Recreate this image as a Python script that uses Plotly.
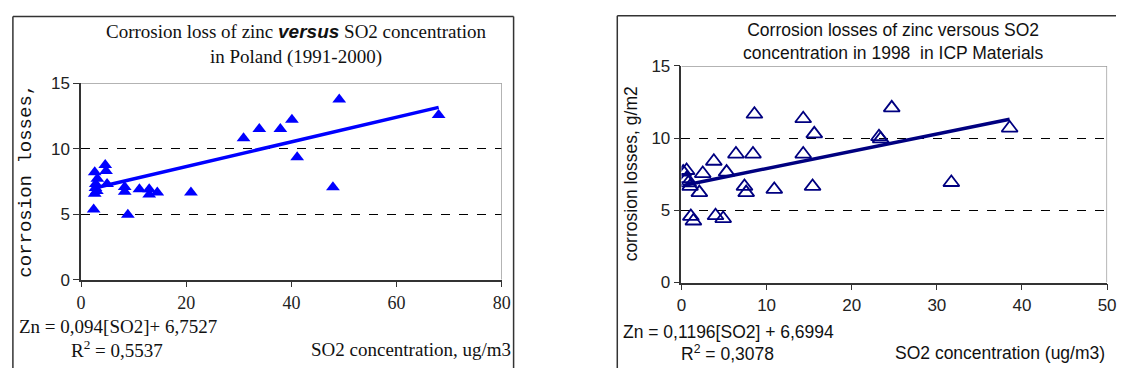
import plotly.graph_objects as go

# ---------------- data ----------------
# Left chart: Poland 1991-2000
pl_so2 = [2.4, 2.6, 2.6, 2.8, 3.0, 3.1, 2.75, 4.6, 4.75, 4.95, 8.3, 8.3, 8.9,
          11.1, 12.96, 12.96, 14.5, 20.9, 30.9, 33.9, 37.9, 40.1, 41.1, 47.9, 49.1, 68.0]
pl_loss = [5.36, 8.2, 6.55, 7.3, 6.76, 7.7, 7.0, 8.75, 8.3, 7.3, 7.08, 6.7, 4.95,
           6.9, 6.9, 6.5, 6.65, 6.65, 10.8, 11.5, 11.5, 12.2, 9.35, 7.05, 13.75, 12.56]
pl_slope, pl_intercept = 0.094, 6.7527

# Right chart: ICP Materials 1998
icp_so2 = [0.2, 0.6, 0.6, 0.8, 1.0, 1.1, 1.4, 2.1, 2.5, 3.8, 4.0, 4.9, 5.3, 6.4,
           7.4, 7.6, 8.4, 8.57, 10.9, 14.3, 14.3, 15.4, 15.6, 23.2, 23.4, 24.7, 31.7, 38.55]
icp_loss = [7.65, 7.76, 7.2, 6.9, 6.66, 4.58, 4.26, 6.23, 7.55, 8.4, 4.63, 4.43, 7.65, 8.9,
            6.66, 6.23, 8.9, 11.66, 6.45, 11.35, 8.9, 6.66, 10.3, 10.1, 9.95, 12.1, 6.93, 10.7]
icp_slope, icp_intercept = 0.1196, 6.6994

y_ticks = [0, 5, 10, 15]
pl_x_ticks = [0, 20, 40, 60, 80]
icp_x_ticks = [0, 10, 20, 30, 40, 50]

W, H = 1125, 378
def px(x):
    return x / W
def py(y):
    return 1 - y / H

def trend(xs, slope, intercept):
    x0, x1 = min(xs), max(xs)
    return [x0, x1], [slope * x0 + intercept, slope * x1 + intercept]

fig = go.Figure()

# left chart
tx, ty = trend(pl_so2, pl_slope, pl_intercept)
fig.add_trace(go.Scatter(x=tx, y=ty, mode="lines", line=dict(color="#0000FF", width=3.5),
                         xaxis="x", yaxis="y", showlegend=False, hoverinfo="skip"))
fig.add_trace(go.Scatter(x=pl_so2, y=pl_loss, mode="markers",
                         marker=dict(symbol="triangle-up", size=12, color="#0000FF", line=dict(width=0)),
                         xaxis="x", yaxis="y", showlegend=False))

# right chart
tx, ty = trend(icp_so2, icp_slope, icp_intercept)
fig.add_trace(go.Scatter(x=tx, y=ty, mode="lines", line=dict(color="#000080", width=3.5),
                         xaxis="x2", yaxis="y2", showlegend=False, hoverinfo="skip"))
fig.add_trace(go.Scatter(x=icp_so2, y=icp_loss, mode="markers",
                         marker=dict(symbol="triangle-up-open", size=14, color="#000080",
                                     line=dict(width=1.8, color="#000080")),
                         xaxis="x2", yaxis="y2", showlegend=False))

axis_common = dict(showline=True, linecolor="#333333", linewidth=1.5, ticks="outside",
                   ticklen=6, tickcolor="#333333", zeroline=False, fixedrange=True)

fig.update_layout(
    width=W, height=H, margin=dict(l=0, r=0, t=0, b=0),
    paper_bgcolor="white", plot_bgcolor="white",
    xaxis=dict(domain=[px(77), px(503)], range=[0, 80], tickvals=pl_x_ticks, showgrid=False,
               anchor="y", tickfont=dict(family="Liberation Serif", size=18, color="#222"), **axis_common),
    yaxis=dict(domain=[py(285), py(78)], range=[0, 15], tickvals=y_ticks, showgrid=True,
               gridcolor="#000000", griddash="dash", gridwidth=1, anchor="x",
               tickfont=dict(family="Liberation Sans", size=17, color="#222"), **axis_common),
    xaxis2=dict(domain=[px(685), px(1116)], range=[0, 50], tickvals=icp_x_ticks, showgrid=False,
                anchor="y2", tickfont=dict(family="Liberation Sans", size=17, color="#222"), **axis_common),
    yaxis2=dict(domain=[py(288), py(60)], range=[0, 15], tickvals=y_ticks, showgrid=True,
                gridcolor="#000000", griddash="dash", gridwidth=1, anchor="x2",
                tickfont=dict(family="Liberation Sans", size=17, color="#222"), **axis_common),
)

frame = dict(color="#333333", width=1.5)
shapes = [
    # outer chart frames (left / top / right edges; bottoms are off-picture)
    dict(type="line", xref="paper", yref="paper", x0=px(8), x1=px(8), y0=0, y1=py(8), line=frame),
    dict(type="line", xref="paper", yref="paper", x0=px(8), x1=px(515), y0=py(8), y1=py(8), line=frame),
    dict(type="line", xref="paper", yref="paper", x0=px(515), x1=px(515), y0=0, y1=py(8), line=frame),
    dict(type="line", xref="paper", yref="paper", x0=px(620), x1=px(620), y0=0, y1=py(7), line=frame),
    dict(type="line", xref="paper", yref="paper", x0=px(620), x1=1, y0=py(7), y1=py(7), line=frame),
    # grey plot-area borders (top / right)
    dict(type="line", xref="x", yref="y", x0=0, x1=80, y0=15, y1=15, line=dict(color="#9a9a9a", width=1.5)),
    dict(type="line", xref="x", yref="y", x0=80, x1=80, y0=0, y1=15, line=dict(color="#9a9a9a", width=1.5)),
    dict(type="line", xref="x2", yref="y2", x0=0, x1=50, y0=15, y1=15, line=dict(color="#9a9a9a", width=1.5)),
    dict(type="line", xref="x2", yref="y2", x0=50, x1=50, y0=0, y1=15, line=dict(color="#9a9a9a", width=1.5)),
]
fig.update_layout(shapes=shapes)

serif = dict(family="Liberation Serif", size=19, color="#111")
sans = dict(family="Liberation Sans", size=17.5, color="#111")

ann = [
    # left chart texts
    dict(x=px(295), y=py(37), xanchor="center", yanchor="middle",
         text="Corrosion loss of zinc <span style='font-family:Liberation Sans'><b><i>versus</i></b></span> SO2 concentration<br>in Poland (1991-2000)",
         font=dict(family="Liberation Serif", size=19, color="#111")),
    dict(x=px(21), y=py(181), xanchor="center", yanchor="middle", textangle=-90,
         text="corrosion losses,", font=dict(family="Liberation Mono", size=19, color="#111")),
    dict(x=px(12), y=py(334), xanchor="left", yanchor="middle",
         text="Zn = 0,094[SO2]+ 6,7527", font=serif),
    dict(x=px(65), y=py(358), xanchor="left", yanchor="middle",
         text="R<sup>2</sup> = 0,5537", font=serif),
    dict(x=px(514), y=py(358), xanchor="right", yanchor="middle",
         text="SO2 concentration, ug/m3", font=serif),
    # right chart texts
    dict(x=px(900), y=py(34), xanchor="center", yanchor="middle",
         text="Corrosion losses of zinc versous SO2<br>concentration in 1998  in ICP Materials", font=sans),
    dict(x=px(634), y=py(174), xanchor="center", yanchor="middle", textangle=-90,
         text="corrosion losses, g/m2", font=sans),
    dict(x=px(624), y=py(340), xanchor="left", yanchor="middle",
         text="Zn = 0,1196[SO2] + 6,6994", font=sans),
    dict(x=px(682), y=py(362), xanchor="left", yanchor="middle",
         text="R<sup>2</sup> = 0,3078", font=sans),
    dict(x=px(1116), y=py(362), xanchor="right", yanchor="middle",
         text="SO2 concentration (ug/m3)", font=sans),
]
for a in ann:
    a.update(xref="paper", yref="paper", showarrow=False)
fig.update_layout(annotations=ann)

fig.write_html("out.html")
